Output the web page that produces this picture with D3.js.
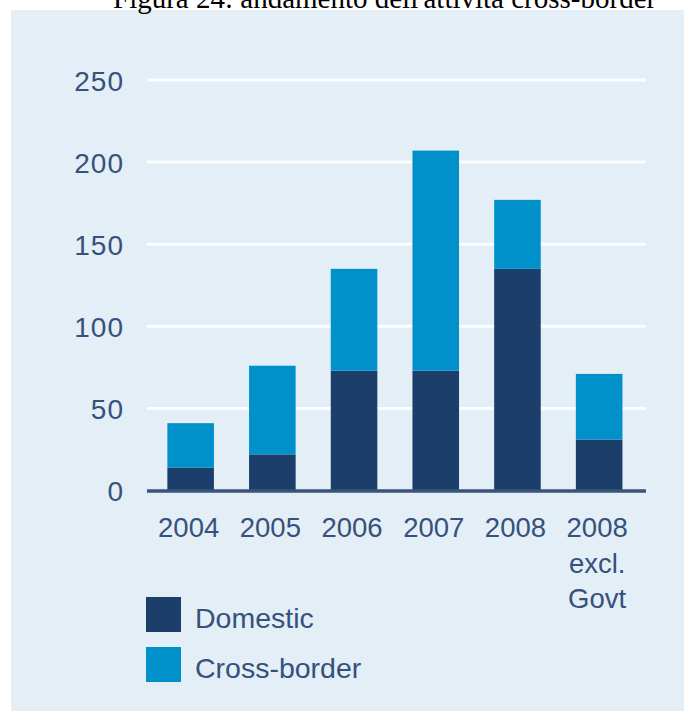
<!DOCTYPE html>
<html>
<head>
<meta charset="utf-8">
<script src="https://cdn.jsdelivr.net/npm/d3@7/dist/d3.min.js"></script>
<style>
  html, body { margin: 0; padding: 0; background: #ffffff; }
  svg { display: block; }
</style>
</head>
<body>
<svg id="chart" width="684" height="711"></svg>
<script>
// Deal activity by year, split into domestic and cross-border
const categories = ["2004", "2005", "2006", "2007", "2008", "2008 excl. Govt"];
const categoryLines = [["2004"], ["2005"], ["2006"], ["2007"], ["2008"], ["2008", "excl.", "Govt"]];
const domestic = [14, 22, 73, 73, 135, 31];
const crossBorder = [27, 54, 62, 134, 42, 40];
const seriesNames = ["Domestic", "Cross-border"];
const yTicks = [0, 50, 100, 150, 200, 250];
const titleText = "Figura 24: andamento dell'attività cross-border";

const colors = { "Domestic": "#1b3e6a", "Cross-border": "#0091cb" };
const textColor = "#36517b";
const sans = "'Liberation Sans', Arial, Helvetica, sans-serif";

const svg = d3.select("#chart");

// Panel background
svg.append("rect")
  .attr("x", 11).attr("y", 10)
  .attr("width", 684 - 11).attr("height", 711 - 10)
  .attr("fill", "#e3eef6");

// Title, partly cropped at the top edge
svg.append("text")
  .attr("x", 113).attr("y", 8)
  .attr("font-family", "'Liberation Serif', 'Times New Roman', serif")
  .attr("font-size", 29)
  .attr("fill", "#000")
  .text(titleText);

const y = d3.scaleLinear().domain([0, 250]).range([490.5, 80]);

const x = d3.scaleBand()
  .domain(categories)
  .range([149.8, 640])
  .paddingInner(0.43)
  .paddingOuter(0.215);

// Gridlines
svg.append("g")
  .selectAll("line")
  .data(yTicks.filter(t => t > 0))
  .join("line")
  .attr("x1", 147).attr("x2", 646)
  .attr("y1", d => y(d)).attr("y2", d => y(d))
  .attr("stroke", "#fbfdfe")
  .attr("stroke-width", 3);

// Y axis labels
const yAxis = d3.axisLeft(y).tickValues(yTicks).tickSize(0).tickPadding(23);
const yg = svg.append("g").attr("transform", "translate(147,0)").call(yAxis);
yg.select(".domain").remove();
yg.selectAll("text")
  .attr("font-family", sans)
  .attr("font-size", 28)
  .attr("letter-spacing", 1)
  .attr("fill", textColor)
  .attr("dy", "0.36em");

// Stacked bars
const rows = categories.map((c, i) => ({ cat: c, "Domestic": domestic[i], "Cross-border": crossBorder[i] }));
const stacked = d3.stack().keys(seriesNames)(rows);

svg.append("g")
  .selectAll("g")
  .data(stacked)
  .join("g")
  .attr("fill", d => colors[d.key])
  .selectAll("rect")
  .data(d => d)
  .join("rect")
  .attr("x", d => x(d.data.cat))
  .attr("width", x.bandwidth())
  .attr("y", d => y(d[1]))
  .attr("height", d => y(d[0]) - y(d[1]));

// Baseline
svg.append("line")
  .attr("x1", 147).attr("x2", 646)
  .attr("y1", y(0) + 0.5).attr("y2", y(0) + 0.5)
  .attr("stroke", "#3a5479")
  .attr("stroke-width", 3.5);

// Category labels
const lab = svg.append("g")
  .attr("font-family", sans)
  .attr("font-size", 27.5)
  .attr("fill", textColor)
  .attr("text-anchor", "middle");

const labX = d => x(d) + x.bandwidth() / 2 - 2;

lab.selectAll("text")
  .data(categories)
  .join("text")
  .attr("x", labX)
  .attr("y", 537)
  .each(function (d, i) {
    d3.select(this).selectAll("tspan")
      .data(categoryLines[i])
      .join("tspan")
      .attr("x", labX(d))
      .attr("dy", (t, j) => j === 0 ? 0 : 35.5)
      .text(t => t);
  });

// Legend
const legend = svg.append("g")
  .selectAll("g")
  .data(seriesNames)
  .join("g")
  .attr("transform", (d, i) => `translate(146,${597 + i * 50})`);

legend.append("rect")
  .attr("width", 35).attr("height", 35)
  .attr("fill", d => colors[d]);

legend.append("text")
  .attr("x", 49).attr("y", 31)
  .attr("font-family", sans)
  .attr("font-size", 28.5)
  .attr("fill", textColor)
  .text(d => d);
</script>
</body>
</html>
